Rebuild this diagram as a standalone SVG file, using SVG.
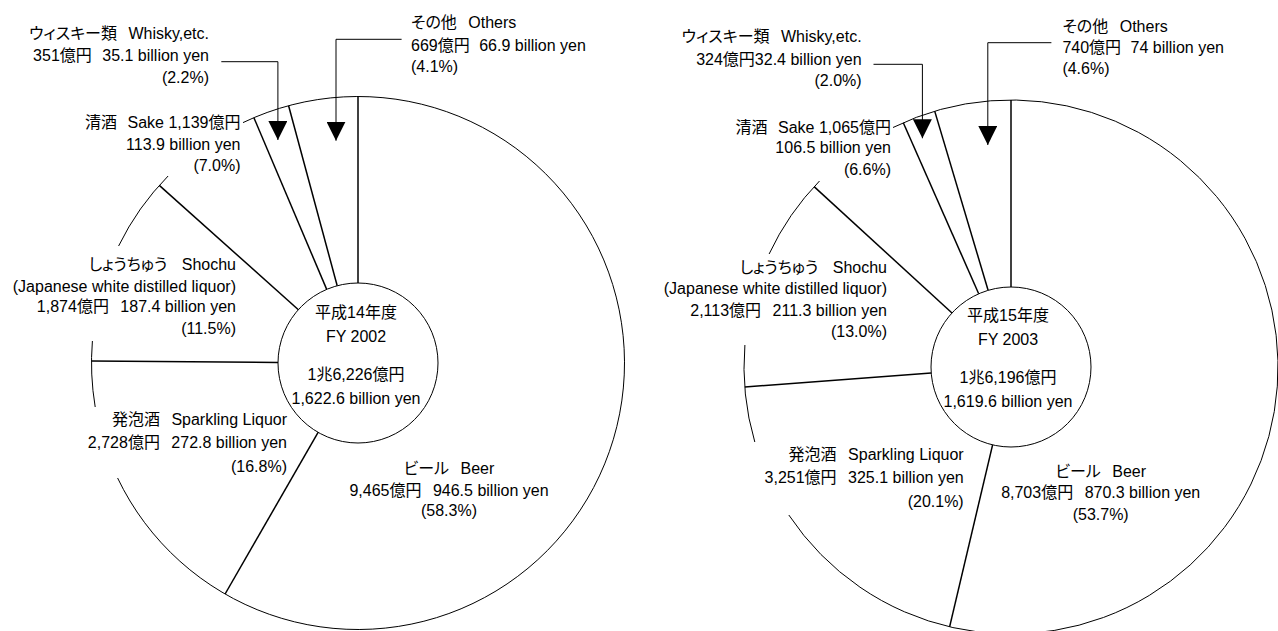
<svg xmlns="http://www.w3.org/2000/svg" width="1278" height="631" viewBox="0 0 1278 631">
<style>
  text { font-family: "Liberation Sans", "Noto Sans CJK JP", sans-serif; font-size: 16px; fill: #000; font-feature-settings: "palt" 1; }
  .r { text-anchor: end; }
  .c { text-anchor: middle; }
  .l { text-anchor: start; }
  .arc { fill: none; stroke: #000; stroke-width: 1; }
  .div { fill: none; stroke: #000; stroke-width: 1.5; }
  .hub { fill: #fff; stroke: #000; stroke-width: 1; }
  .lead { fill: none; stroke: #000; stroke-width: 1; marker-end: url(#ah); }
</style>
<defs>
  <marker id="ah" markerUnits="userSpaceOnUse" viewBox="0 0 19 19" refX="19" refY="9.5" markerWidth="19" markerHeight="19" orient="auto">
    <path d="M0,0 L19,9.5 L0,19 Z" fill="#000"/>
  </marker>
</defs>
<rect width="1278" height="631" fill="#fff"/>

<!-- ===== FY 2002 ===== -->
<g id="pie-2002">
  <path class="arc" d="M243,122.6 A266.5,266.5 0 1 1 117.6,478"/>
  <path class="arc" d="M95.2,407 A266.5,266.5 0 0 1 92.4,341"/>
  <path class="arc" d="M118.6,246 A266.5,266.5 0 0 1 168.1,176"/>
  <line class="div" x1="358" y1="283" x2="358" y2="96.5"/>
  <line class="div" x1="318.1" y1="432.4" x2="225.1" y2="594"/>
  <line class="div" x1="278" y1="362.4" x2="91.5" y2="361.1"/>
  <line class="div" x1="298.4" y1="309.7" x2="159.3" y2="185.4"/>
  <line class="div" x1="326.7" y1="289.4" x2="253.9" y2="117.7"/>
  <line class="div" x1="337.2" y1="285.8" x2="288.6" y2="105.7"/>
</g>
<g id="hub-2002">
  <circle class="hub" cx="358" cy="363" r="80"/>
  <text class="c" x="356" y="318.2">平成14年度</text>
  <text class="c" x="356" y="341.5">FY 2002</text>
  <text class="c" x="356" y="379.5">1兆6,226億円</text>
  <text class="c" x="356" y="404.2">1,622.6 billion yen</text>
</g>
<g id="whisky-2002">
  <text class="r" x="209" y="38.8">ウィスキー類 <tspan dx="7">Whisky,etc.</tspan></text>
  <text class="r" x="209" y="60.5">351億円 <tspan dx="6">35.1 billion yen</tspan></text>
  <text class="r" x="209" y="82.8">(2.2%)</text>
</g>
<g id="others-2002">
  <text class="l" x="411" y="28.2">その他 <tspan dx="7">Others</tspan></text>
  <text class="l" x="411" y="50.5">669億円 <tspan dx="5">66.9 billion yen</tspan></text>
  <text class="l" x="411" y="71.5">(4.1%)</text>
</g>
<g id="sake-2002">
  <text class="r" x="240.5" y="128.2">清酒 <tspan dx="6">Sake 1,139億円</tspan></text>
  <text class="r" x="240.5" y="149.5">113.9 billion yen</text>
  <text class="r" x="240.5" y="171.2">(7.0%)</text>
</g>
<g id="shochu-2002">
  <text class="r" x="236" y="269.5">しょうちゅう <tspan dx="10">Shochu</tspan></text>
  <text class="r" x="236" y="291.5">(Japanese white distilled liquor)</text>
  <text class="r" x="236" y="311.5">1,874億円 <tspan dx="7">187.4 billion yen</tspan></text>
  <text class="r" x="236" y="333.8">(11.5%)</text>
</g>
<g id="sparkling-2002">
  <text class="r" x="287" y="424.5">発泡酒 <tspan dx="7">Sparkling Liquor</tspan></text>
  <text class="r" x="287" y="448.2">2,728億円 <tspan dx="7">272.8 billion yen</tspan></text>
  <text class="r" x="287" y="472.2">(16.8%)</text>
</g>
<g id="beer-2002">
  <text class="c" x="449" y="473.8">ビール <tspan dx="7">Beer</tspan></text>
  <text class="c" x="449" y="495.5">9,465億円 <tspan dx="7">946.5 billion yen</tspan></text>
  <text class="c" x="449" y="516.2">(58.3%)</text>
</g>

<!-- ===== FY 2003 ===== -->
<g id="pie-2003">
  <path class="arc" d="M893,127.5 A267,267 0 1 1 788.8,515"/>
  <path class="arc" d="M754.8,442 A267,267 0 0 1 744.9,345"/>
  <path class="arc" d="M769.1,254 A267,267 0 0 1 819.5,181"/>
  <line class="div" x1="1011" y1="287" x2="1011" y2="100"/>
  <line class="div" x1="992.6" y1="444.9" x2="949.6" y2="626.8"/>
  <line class="div" x1="931.2" y1="373" x2="744.8" y2="387"/>
  <line class="div" x1="952" y1="313" x2="814.1" y2="186.6"/>
  <line class="div" x1="978.7" y1="293.8" x2="903.3" y2="122.7"/>
  <line class="div" x1="988.1" y1="290.3" x2="934.7" y2="111.1"/>
</g>
<g id="hub-2003">
  <circle class="hub" cx="1011" cy="367" r="80"/>
  <text class="c" x="1008" y="320.5">平成15年度</text>
  <text class="c" x="1008" y="344.8">FY 2003</text>
  <text class="c" x="1008" y="382.8">1兆6,196億円</text>
  <text class="c" x="1008" y="406.5">1,619.6 billion yen</text>
</g>
<g id="whisky-2003">
  <text class="r" x="861.6" y="42.2">ウィスキー類 <tspan dx="7">Whisky,etc.</tspan></text>
  <text class="r" x="861.6" y="64.8">324億円32.4 billion yen</text>
  <text class="r" x="861.6" y="85.5">(2.0%)</text>
</g>
<g id="others-2003">
  <text class="l" x="1062.4" y="31.5">その他 <tspan dx="7">Others</tspan></text>
  <text class="l" x="1062.4" y="53.2">740億円 <tspan dx="5">74 billion yen</tspan></text>
  <text class="l" x="1062.4" y="73.8">(4.6%)</text>
</g>
<g id="sake-2003">
  <text class="r" x="891" y="133.2">清酒 <tspan dx="6">Sake 1,065億円</tspan></text>
  <text class="r" x="891" y="153.2">106.5 billion yen</text>
  <text class="r" x="891" y="174.8">(6.6%)</text>
</g>
<g id="shochu-2003">
  <text class="r" x="887" y="273.2">しょうちゅう <tspan dx="10">Shochu</tspan></text>
  <text class="r" x="887" y="293.8">(Japanese white distilled liquor)</text>
  <text class="r" x="887" y="315.5">2,113億円 <tspan dx="7">211.3 billion yen</tspan></text>
  <text class="r" x="887" y="337.2">(13.0%)</text>
</g>
<g id="sparkling-2003">
  <text class="r" x="963.7" y="459.8">発泡酒 <tspan dx="7">Sparkling Liquor</tspan></text>
  <text class="r" x="963.7" y="483.2">3,251億円 <tspan dx="7">325.1 billion yen</tspan></text>
  <text class="r" x="963.7" y="506.5">(20.1%)</text>
</g>
<g id="beer-2003">
  <text class="c" x="1100.7" y="477.2">ビール <tspan dx="7">Beer</tspan></text>
  <text class="c" x="1100.7" y="498.2">8,703億円 <tspan dx="7">870.3 billion yen</tspan></text>
  <text class="c" x="1100.7" y="519.8">(53.7%)</text>
</g>

<!-- ===== connectors (leader arrows) ===== -->
<g id="connectors">
  <path class="lead" d="M221.3,61.7 H277.9 V140"/>
  <path class="lead" d="M401.6,39.3 H336 V140.7"/>
  <path class="lead" d="M873.5,64.3 H922.4 V138.3"/>
  <path class="lead" d="M1051.4,42.7 H987.8 V145"/>
</g>
</svg>
